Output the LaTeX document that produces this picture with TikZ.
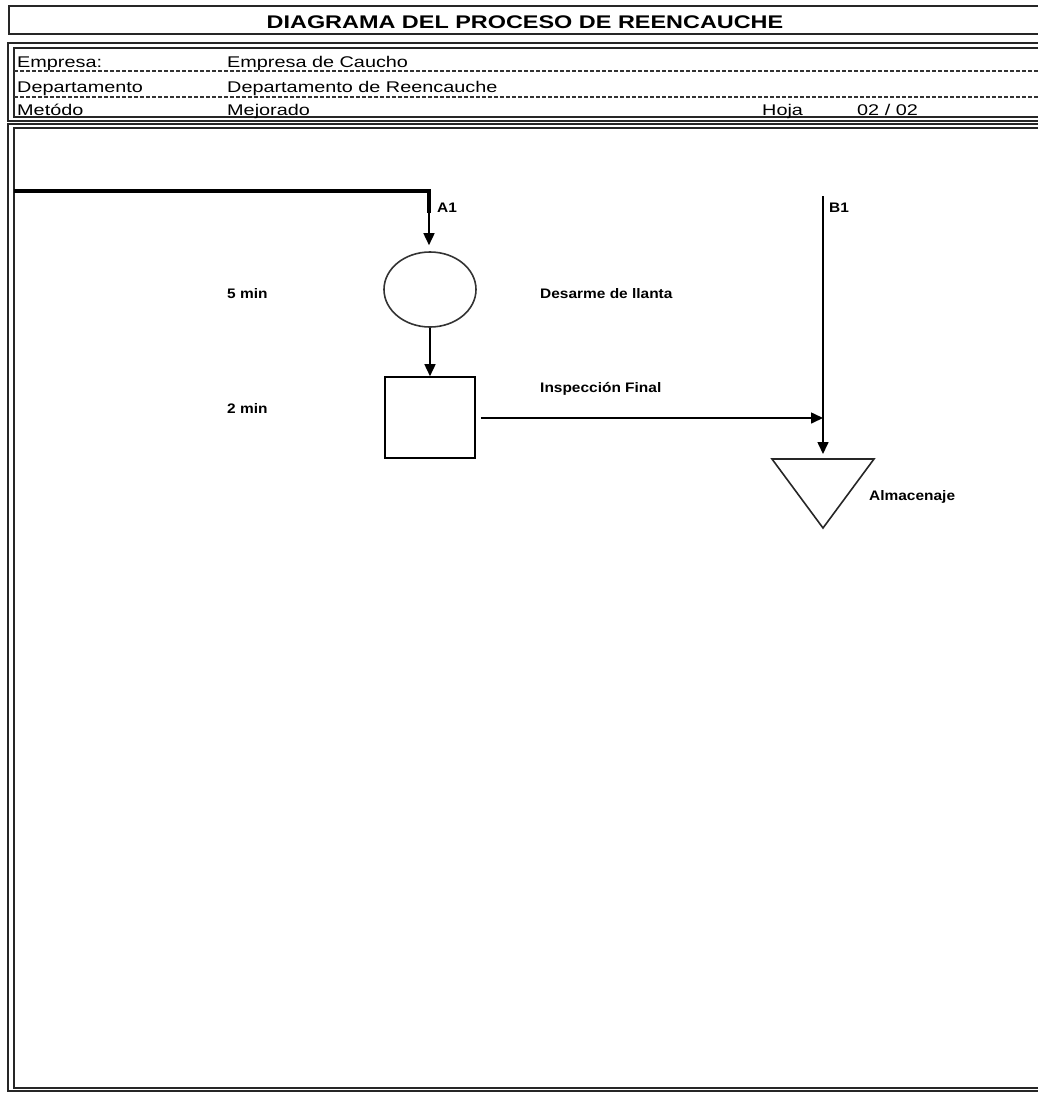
\documentclass[tikz,border=0pt]{standalone}
\usepackage{fontspec}
\setmainfont{Liberation Sans}
\newfontfamily\formfont[FakeStretch=1.28]{Liberation Sans}
\newfontfamily\chartfont[FakeStretch=1.12]{Liberation Sans}
\usetikzlibrary{arrows.meta,shapes.geometric}
\begin{document}
\begin{tikzpicture}[
  x=1pt, y=-1pt,
  frame/.style={draw=black!85,line width=1.5pt},
  ttl/.style={font=\formfont\bfseries\fontsize{18.3}{20}\selectfont,inner sep=0pt,anchor=base},
  hdr/.style={font=\formfont\fontsize{15.5}{18}\selectfont,inner sep=0pt,anchor=base west},
  lbl/.style={font=\chartfont\bfseries\fontsize{13.8}{16}\selectfont,inner sep=0pt,anchor=base west},
  rule/.style={black!80,line width=1.2pt,dash pattern=on 4pt off 2pt},
  op/.style={draw=black!80,line width=1.6pt,ellipse,minimum width=92,minimum height=75,inner sep=0pt},
  chk/.style={draw=black,line width=1.6pt,rectangle,minimum width=90,minimum height=81,inner sep=0pt},
  arr/.style={-{Triangle[length=12pt,width=11pt]},line width=1.6pt,black},
  feed/.style={line width=3.5pt,black}]

\useasboundingbox (0,0) rectangle (1037,1093);

\draw[frame] (9,6) rectangle (1045,34);
\node[ttl] (title) at (525,28) {DIAGRAMA DEL PROCESO DE REENCAUCHE};

\draw[frame] (8,43) rectangle (1045,121);
\draw[frame] (14,48) rectangle (1045,117);
\draw[rule] (14,71) -- (1045,71);
\draw[rule] (14,97) -- (1045,97);
\node[hdr] (emp)   at ( 17,67)  {Empresa:};
\node[hdr] (empv)  at (227,67)  {Empresa de Caucho};
\node[hdr] (dep)   at ( 17,92)  {Departamento};
\node[hdr] (depv)  at (227,92)  {Departamento de Reencauche};
\node[hdr] (met)   at ( 17,115) {Metódo};
\node[hdr] (metv)  at (227,115) {Mejorado};
\node[hdr] (hoja)  at (762,115) {Hoja};
\node[hdr] (hojav) at (857,115) {02 / 02};

\draw[frame] (8,124) rectangle (1045,1091);
\draw[frame] (14,128) rectangle (1045,1088);

\coordinate (a1in)  at ( 14,191);
\coordinate (a1)    at (429,191);
\coordinate (a1end) at (429,213);
\node[op]  (desarme) at (430,289.5) {};
\node[chk] (insp)    at (430,417.5) {};
\coordinate (b1)      at (823,196);
\coordinate (b1join)  at (823,418);
\coordinate (almacen) at (823,459);

\draw[feed] (a1in) -- (a1) -- (a1end);
\draw[arr,shorten >=6pt] (a1end) -- (a1end |- desarme.north);
\draw[arr] (desarme) -- (insp);
\draw[arr,shorten <=5pt] (insp.east |- b1join) -- (b1join);
\draw[arr,shorten >=5pt] (b1) -- (almacen);
\draw[black!85,line width=1.6pt,line join=miter] (almacen) ++(-51,0) -- ++(102,0) -- ++(-51,69) -- cycle;

\node[lbl] (a1lbl) at (437,212) {A1};
\node[lbl] (b1lbl) at (829,212) {B1};
\node[lbl] (t1)    at (227,298) {5 min};
\node[lbl] (t2)    at (227,413) {2 min};
\node[lbl] (n1)    at (540,298) {Desarme de llanta};
\node[lbl] (n2)    at (540,392) {Inspección Final};
\node[lbl] (n3)    at (869,500) {Almacenaje};
\end{tikzpicture}
\end{document}
